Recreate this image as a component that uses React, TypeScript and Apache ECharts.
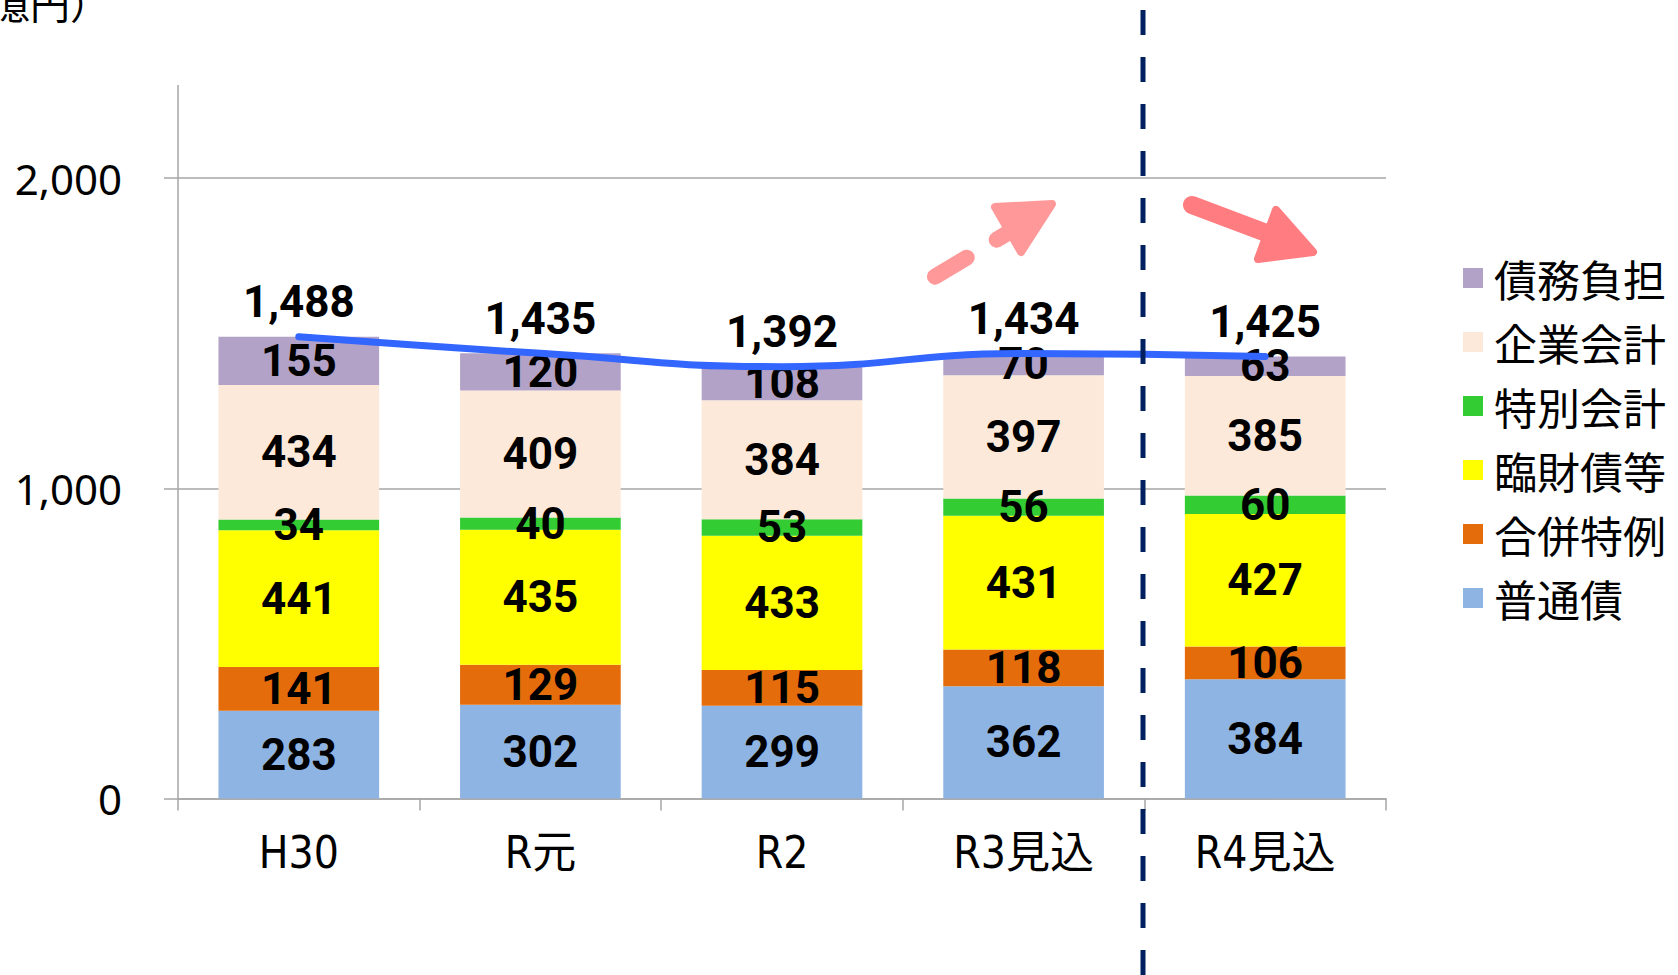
import React, { useEffect, useRef } from 'react';
import * as echarts from 'echarts';

const categories = ['H30', 'R元', 'R2', 'R3見込', 'R4見込'];
const futsusai = [283, 302, 299, 362, 384];
const gappeiTokurei = [141, 129, 115, 118, 106];
const rinzaisai = [441, 435, 433, 431, 427];
const tokubetsuKaikei = [34, 40, 53, 56, 60];
const kigyoKaikei = [434, 409, 384, 397, 385];
const saimuFutan = [155, 120, 108, 70, 63];
const totals = [1488, 1435, 1392, 1434, 1425];

const seriesNames = ['普通債', '合併特例', '臨財債等', '特別会計', '企業会計', '債務負担'];
const seriesValues = [futsusai, gappeiTokurei, rinzaisai, tokubetsuKaikei, kigyoKaikei, saimuFutan];
const seriesColors = ['#8EB4E3', '#E46C0A', '#FFFF00', '#33CC33', '#FDE9D9', '#B3A2C7'];
const legendOrder = ['債務負担', '企業会計', '特別会計', '臨財債等', '合併特例', '普通債'];

const narrow = "'DejaVu Sans Condensed', 'Noto Sans CJK JP', sans-serif";
const valueFont = "Roboto, 'Liberation Sans', sans-serif";
const fmt = (v: number) => v.toLocaleString('en-US');

export default function App() {
  const ref = useRef<HTMLDivElement>(null);
  useEffect(() => {
    document.body.style.margin = '0';
    const chart = echarts.init(ref.current!, null, { renderer: 'svg' });
    const axisGray = '#A6A6A6';
    const bars = seriesNames.map((name, i) => ({
      name,
      type: 'bar',
      stack: 'total',
      data: seriesValues[i],
      barWidth: '66.5%',
      itemStyle: { color: seriesColors[i] },
      label: {
        show: true,
        position: 'inside',
        color: '#000',
        fontWeight: 'bold',
        fontSize: 44,
        fontFamily: valueFont,
      },
      z: 2,
    }));
    chart.setOption({
      animation: false,
      backgroundColor: '#fff',
      grid: { left: 178, right: 292, top: 178, bottom: 176.5, containLabel: false },
      legend: {
        orient: 'vertical',
        left: 1458,
        top: 251,
        data: legendOrder,
        icon: 'rect',
        itemWidth: 20,
        itemHeight: 20,
        itemGap: 20,
        textStyle: {
          fontSize: 43,
          lineHeight: 44,
          color: '#000',
          fontFamily: "'Noto Sans CJK JP', sans-serif",
          padding: [0, 0, 0, 6],
        },
      },
      xAxis: {
        type: 'category',
        data: categories,
        axisLine: { lineStyle: { color: axisGray, width: 1.5 } },
        axisTick: { show: true, length: 12, lineStyle: { color: axisGray, width: 1.5 } },
        axisLabel: { color: '#000', fontSize: 44, margin: 32, fontFamily: narrow },
      },
      yAxis: {
        type: 'value',
        min: 0,
        max: 2000,
        interval: 1000,
        axisLine: { show: true, lineStyle: { color: axisGray, width: 1.5 } },
        axisTick: { show: true, length: 14, lineStyle: { color: axisGray, width: 1.5 } },
        splitLine: { lineStyle: { color: axisGray, width: 1.5 } },
        axisLabel: {
          color: '#000',
          fontSize: 42,
          margin: 56,
          fontFamily: "'Noto Sans', sans-serif",
          formatter: (v: number) => fmt(v),
        },
      },
      series: [
        ...bars,
        {
          name: '合計',
          type: 'line',
          data: totals,
          smooth: true,
          symbol: 'circle',
          symbolSize: 1,
          itemStyle: { color: '#3366FF' },
          lineStyle: { color: '#3366FF', width: 7, cap: 'round' },
          label: {
            show: true,
            position: 'top',
            distance: 12,
            color: '#000',
            fontWeight: 'bold',
            fontSize: 44,
            fontFamily: valueFont,
            formatter: (p: any) => fmt(p.value),
          },
          z: 3,
        },
      ],
      graphic: [
        {
          type: 'text',
          x: 110,
          y: 22,
          style: {
            text: '（億円）',
            fontSize: 40,
            fill: '#000',
            align: 'right',
            verticalAlign: 'bottom',
            fontFamily: "'Noto Sans CJK JP', sans-serif",
          },
        },
        {
          type: 'line',
          shape: { x1: 178, y1: 85, x2: 178, y2: 178 },
          style: { stroke: axisGray, lineWidth: 1.5 },
        },
        {
          type: 'line',
          shape: { x1: 1143, y1: -37, x2: 1143, y2: 1000 },
          style: { stroke: '#002060', lineWidth: 5, lineDash: [25, 22] },
          z: 10,
        },
        {
          type: 'polyline',
          shape: { points: [[935, 276.7], [1028.4, 220.6]] },
          style: { stroke: '#FF9999', lineWidth: 16, lineCap: 'round', lineDash: [37, 35], fill: null },
          z: 10,
        },
        {
          type: 'polygon',
          shape: { points: [[995, 207], [1052, 204], [1021, 252]] },
          style: { fill: '#FF9999', stroke: '#FF9999', lineWidth: 8, lineJoin: 'round' },
          z: 10,
        },
        {
          type: 'line',
          shape: { x1: 1192, y1: 205, x2: 1285, y2: 240 },
          style: { stroke: '#FF7C80', lineWidth: 18, lineCap: 'round' },
          z: 10,
        },
        {
          type: 'polygon',
          shape: { points: [[1276, 210], [1313, 252], [1258, 259]] },
          style: { fill: '#FF7C80', stroke: '#FF7C80', lineWidth: 8, lineJoin: 'round' },
          z: 10,
        },
      ],
    });
    return () => chart.dispose();
  }, []);
  return (
    <div
      ref={ref}
      style={{ position: 'absolute', left: 0, top: 0, width: 1678, height: 975, background: '#fff' }}
    />
  );
}
